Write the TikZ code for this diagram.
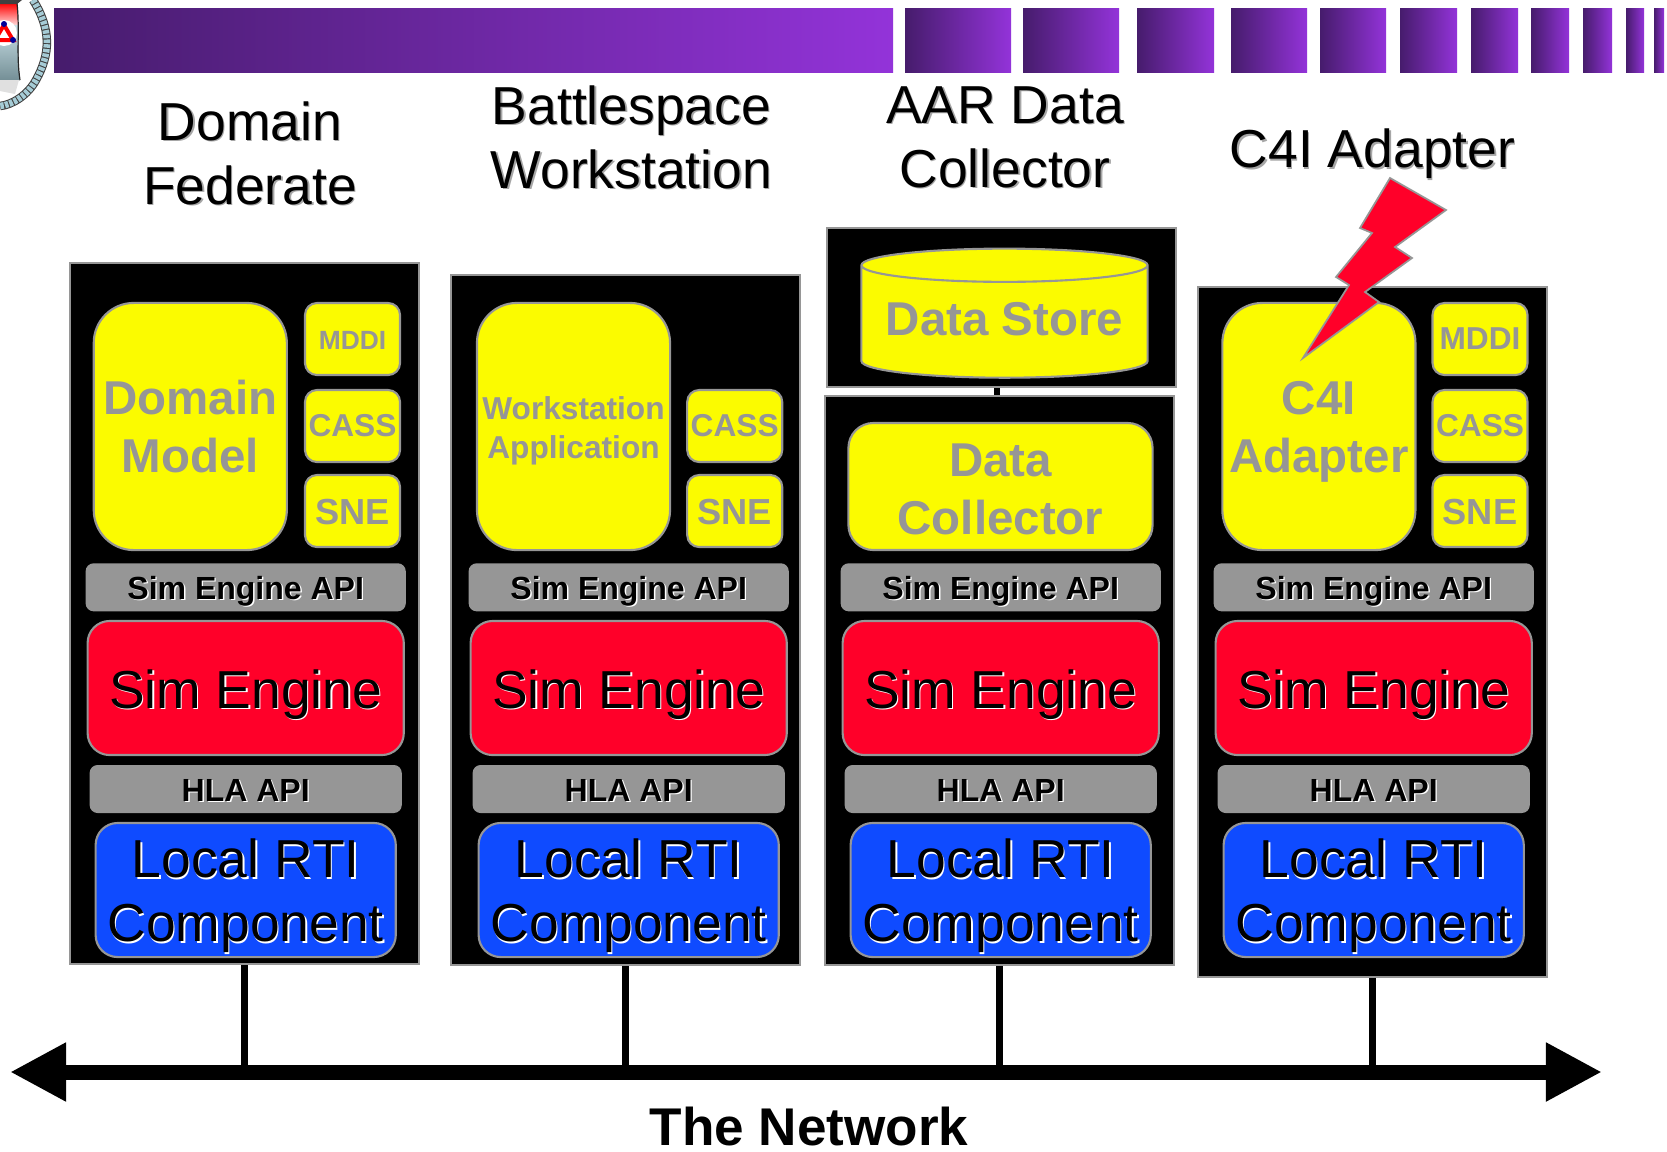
\documentclass[tikz,border=0pt]{standalone}
\usepackage{fontspec}
\setmainfont{Liberation Sans}
\usetikzlibrary{arrows.meta,shapes.geometric}
\definecolor{barDark}{HTML}{461C6C}
\definecolor{barLight}{HTML}{9333D9}
\definecolor{boxGray}{HTML}{969696}
\definecolor{partYellow}{HTML}{FBFB00}
\definecolor{engineRed}{HTML}{FF0029}
\definecolor{rtiBlue}{HTML}{0F4BFF}
\definecolor{ropeBlue}{HTML}{A6CCD6}
\newcommand{\shtext}[2]{\leavevmode\rlap{\raisebox{-0.4pt}[0pt][0pt]{\kern0.4pt\textcolor{#1}{#2}}}#2}
\tikzset{
	purplebar/.style={left color=barDark, right color=barLight, draw=none},
	title/.style={align=center, font=\fontsize{15.2}{18.2}\selectfont},
	fedbox/.style={draw=boxGray, fill=black, line width=0.65pt, minimum width=3.49cm, inner sep=0},
	part/.style={draw=boxGray, fill=partYellow, line width=0.6pt, inner sep=0, align=center, text=boxGray, font=\fontsize{13.5}{16.5}\selectfont\bfseries},
	bigpart/.style={part, minimum width=1.93cm, minimum height=2.47cm, rounded corners=0.4cm, text height=26.2pt, text depth=0pt},
	smallpart/.style={part, minimum width=0.95cm, minimum height=0.72cm, rounded corners=0.12cm, text height=6pt, text depth=0pt, font=\fontsize{9}{11}\selectfont\bfseries},
	apibar/.style={fill=boxGray, inner sep=0, minimum height=0.48cm, rounded corners=0.08cm, text height=6.9pt, text depth=0pt, font=\fontsize{9.1}{11}\selectfont\bfseries},
	engine/.style={draw=boxGray, fill=engineRed, line width=0.6pt, inner sep=0, minimum width=3.16cm, minimum height=1.34cm, rounded corners=0.22cm, text height=11.7pt, text depth=0pt, font=\fontsize{15.2}{18.2}\selectfont},
	rti/.style={draw=boxGray, fill=rtiBlue, line width=0.6pt, inner sep=0, minimum width=3cm, minimum height=1.34cm, rounded corners=0.22cm, align=center, text height=29.4pt, text depth=0pt, font=\fontsize{15.2}{18.2}\selectfont},
	wire/.style={line width=0.065cm}
}
\begin{document}
\begin{tikzpicture}[x=0.01cm, y=-0.01cm]
	\clip (0, 0) rectangle (1667, 1151);
	% Logo in the corner:
	\fill[top color=red, bottom color=red!15] (0, 3) -- (17, 3) -- (18, 25) -- (0, 25) -- cycle;
	\fill[top color=ropeBlue!60, bottom color=ropeBlue!70!black] (0, 25) -- (18, 25) .. controls (19, 45) and (17, 60) .. (20, 80) -- (0, 80) -- cycle;
	\draw[black!85, line width=0.012cm] (17, 3) .. controls (20, 30) and (16, 55) .. (20, 80);
	\fill[black!75] (0, 0) -- (22, 0) -- (17, 4) -- (0, 4) -- cycle;
	\fill[black!12] (0, 80) -- (19, 80) -- (15, 94) -- (0, 91) -- cycle;
	\fill[white] (4, 33) circle (13);
	\draw[red, line width=0.04cm] (-5, 40) -- (13, 40) -- (4, 25) -- cycle;
	\fill[blue!60!black] (13, 40) circle (3) (4, 24) circle (3);
	\draw[black!75, line width=0.085cm] (33, 0) .. controls (52, 30) and (50, 55) .. (36, 80) .. controls (28, 95) and (12, 105) .. (0, 106);
	\draw[ropeBlue, line width=0.065cm, dash pattern=on 0.035cm off 0.012cm] (33, 0) .. controls (52, 30) and (50, 55) .. (36, 80) .. controls (28, 95) and (12, 105) .. (0, 106);
	% Banner:
	\shade[purplebar] (54, 8) rectangle (893, 72);
	\shade[purplebar] (905, 8) rectangle (1011, 72);
	\shade[purplebar] (1023, 8) rectangle (1119, 72);
	\shade[purplebar] (1137, 8) rectangle (1214, 72);
	\shade[purplebar] (1231, 8) rectangle (1307, 72);
	\shade[purplebar] (1320, 8) rectangle (1386, 72);
	\shade[purplebar] (1400, 8) rectangle (1457, 72);
	\shade[purplebar] (1471, 8) rectangle (1518, 72);
	\shade[purplebar] (1531, 8) rectangle (1569, 72);
	\shade[purplebar] (1583, 8) rectangle (1612, 72);
	\shade[purplebar] (1626, 8) rectangle (1644, 72);
	\shade[purplebar] (1654, 8) rectangle (1664, 72);
	% Titles:
	\node[title] (titleA) at (250, 153){\shtext{black!35}{Domain}\\\shtext{black!35}{Federate}};
	\node[title] (titleB) at (631.5, 137){\shtext{black!35}{Battlespace}\\\shtext{black!35}{Workstation}};
	\node[title] (titleC) at (1005, 137){\shtext{black!35}{AAR Data}\\\shtext{black!35}{Collector}};
	\node[title] (titleD) at (1372.6, 154){\shtext{black!35}{C4I Adapter}};
	% The network:
	\coordinate (netL) at (10, 1072);
	\coordinate (netR) at (1602, 1072);
	\draw[line width=0.15cm, {Triangle[length=0.56cm, width=0.55cm]}-{Triangle[length=0.56cm, width=0.55cm]}] (netL) -- (netR);
	\node[font=\fontsize{15.1}{18}\selectfont\bfseries] (netLabel) at (809, 1126){The Network};
	% Federate boxes:
	\node[fedbox, minimum height=7.01cm] (fedA) at (244.5, 613.5){};
	\node[fedbox, minimum height=6.90cm] (fedB) at (625.5, 620){};
	\node[fedbox, minimum height=5.69cm] (fedC) at (999.5, 680.5){};
	\node[fedbox, minimum height=1.59cm] (store) at (1001.5, 307.5){};
	\node[fedbox, minimum height=6.90cm] (fedD) at (1372.5, 632){};
	% Wires:
	\draw[wire] (fedA.south) -- (fedA.south |- netL);
	\draw[wire] (fedB.south) -- (fedB.south |- netL);
	\draw[wire] (fedC.south) -- (fedC.south |- netL);
	\draw[wire] (fedD.south) -- ([yshift=-0.08cm]fedD.south |- netL);
	\draw[wire] ([xshift=-0.025cm]fedC.north) -- ([xshift=-0.025cm]fedC.north |- store.south);
	% Domain federate:
	\node[bigpart] (domain) at (190.3, 426.5){Domain\\Model};
	\node[smallpart, font=\fontsize{7.5}{9}\selectfont\bfseries] (mddiA) at (352.5, 339){MDDI};
	\node[smallpart] (cassA) at (352.5, 426){CASS};
	\node[smallpart, text height=7.4pt, font=\fontsize{10.3}{12}\selectfont\bfseries] (sneA) at (352.5, 511){SNE};
	\node[apibar, minimum width=3.2cm] (simApiA) at (245.7, 587.3){\shtext{white}{Sim Engine API}};
	\node[engine] (simA) at (245.7, 688){\shtext{white}{Sim Engine}};
	\node[apibar, minimum width=3.12cm] (hlaA) at (245.7, 789){\shtext{white}{HLA API}};
	\node[rti] (rtiA) at (245.7, 890){\shtext{white}{Local RTI}\\\shtext{white}{Component}};
	% Battlespace workstation:
	\node[bigpart, text height=18.2pt, text depth=0pt, font=\fontsize{9}{11.1}\selectfont\bfseries] (workstation) at (573.5, 426.5){Workstation\\Application};
	\node[smallpart] (cassB) at (734.7, 426){CASS};
	\node[smallpart, text height=7.4pt, font=\fontsize{10.3}{12}\selectfont\bfseries] (sneB) at (734.7, 511){SNE};
	\node[apibar, minimum width=3.2cm] (simApiB) at (628.7, 587.3){\shtext{white}{Sim Engine API}};
	\node[engine] (simB) at (628.7, 688){\shtext{white}{Sim Engine}};
	\node[apibar, minimum width=3.12cm] (hlaB) at (628.7, 789){\shtext{white}{HLA API}};
	\node[rti] (rtiB) at (628.7, 890){\shtext{white}{Local RTI}\\\shtext{white}{Component}};
	% AAR data collector:
	\node[part, cylinder, shape border rotate=90, aspect=0.14, minimum width=2.86cm, minimum height=1.29cm, text height=7.8pt, text depth=0pt, cylinder uses custom fill, cylinder body fill=partYellow, cylinder end fill=partYellow!75!white] (dataStore) at (1004.5, 322){Data Store};
	\node[bigpart, minimum width=3.04cm, minimum height=1.27cm, rounded corners=0.25cm, text height=27.4pt] (collector) at (1000.5, 486.5){Data\\Collector};
	\node[apibar, minimum width=3.2cm] (simApiC) at (1000.7, 587.3){\shtext{white}{Sim Engine API}};
	\node[engine] (simC) at (1000.7, 688){\shtext{white}{Sim Engine}};
	\node[apibar, minimum width=3.12cm] (hlaC) at (1000.7, 789){\shtext{white}{HLA API}};
	\node[rti] (rtiC) at (1000.7, 890){\shtext{white}{Local RTI}\\\shtext{white}{Component}};
	% C4I adapter:
	\node[bigpart] (adapter) at (1318.9, 426.5){C4I\\Adapter};
	\node[smallpart] (mddiD) at (1480, 339){MDDI};
	\node[smallpart] (cassD) at (1480, 426){CASS};
	\node[smallpart, text height=7.4pt, font=\fontsize{10.3}{12}\selectfont\bfseries] (sneD) at (1480, 511){SNE};
	\node[apibar, minimum width=3.2cm] (simApiD) at (1373.7, 587.3){\shtext{white}{Sim Engine API}};
	\node[engine] (simD) at (1373.7, 688){\shtext{white}{Sim Engine}};
	\node[apibar, minimum width=3.12cm] (hlaD) at (1373.7, 789){\shtext{white}{HLA API}};
	\node[rti] (rtiD) at (1373.7, 890){\shtext{white}{Local RTI}\\\shtext{white}{Component}};
	% Lightning bolt:
	\draw[draw=boxGray, fill=engineRed, line width=0.5pt] (1303, 358) -- (1379, 302) -- (1365, 292) -- (1412, 258) -- (1395, 247) -- (1446, 210) -- (1390, 178) -- (1360, 228) -- (1372, 233) -- (1336, 277) -- (1349, 285) -- cycle;
\end{tikzpicture}
\end{document}
